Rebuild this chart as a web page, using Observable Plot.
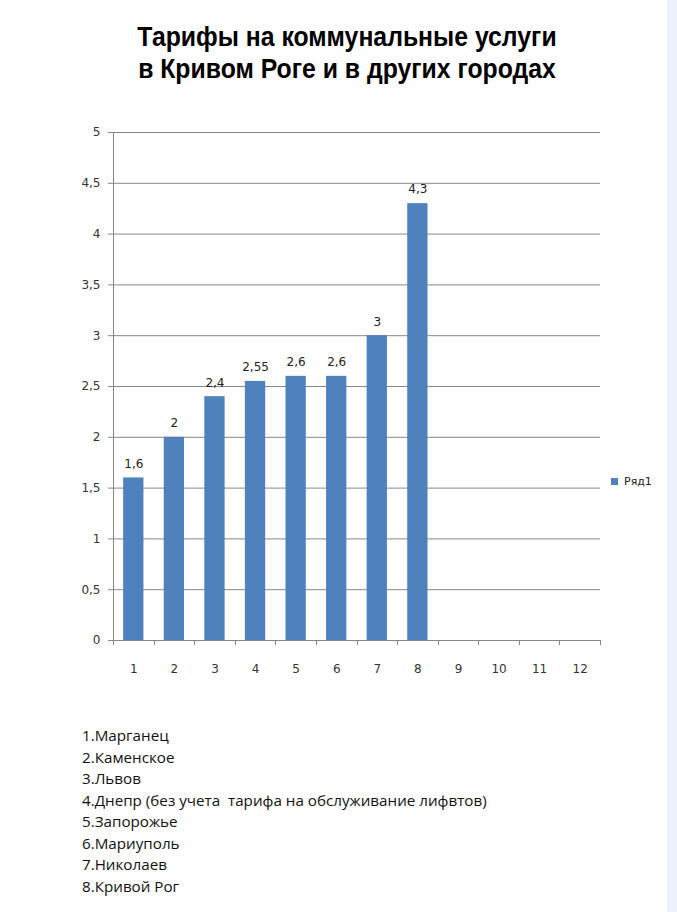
<!DOCTYPE html>
<html>
<head>
<meta charset="utf-8">
<script src="https://cdn.jsdelivr.net/npm/d3@7"></script>
<script src="https://cdn.jsdelivr.net/npm/@observablehq/plot@0.6"></script>
<style>
  html, body { margin: 0; padding: 0; background: #fff; overflow: hidden; }
  #page { position: relative; width: 677px; height: 912px; background: #fff; }
  #strip { position: absolute; left: 667px; top: 0; width: 10px; height: 912px; background: #edf1f9; }
  #title { position: absolute; left: 0; top: 21px; width: 694px; text-align: center;
           font-family: "Liberation Sans", sans-serif; font-weight: bold;
           font-size: 28px; line-height: 32px; color: #000; }
  #title div { transform: scaleX(0.885); transform-origin: 347px 0; }
  #chart { position: absolute; left: 0; top: 100px; }
  #legend { position: absolute; left: 611px; top: 475px; font-family: "DejaVu Sans", sans-serif;
            font-size: 11px; color: #222; display: flex; align-items: center; }
  #legend span.sw { display: inline-block; width: 7px; height: 7px; background: #4f81bd; margin-right: 6px; }
  #caption { position: absolute; left: 82px; top: 725px; font-family: "Open Sans", sans-serif;
             font-size: 15.2px; line-height: 21.5px; color: #111; white-space: pre; }
</style>
</head>
<body>
<div id="page">
  <div id="strip"></div>
  <div id="title"></div>
  <div id="chart"></div>
  <div id="legend"></div>
  <div id="caption"></div>
</div>
<script>
// ---- data ----
const titleLines = ["Тарифы на коммунальные услуги", "в Кривом Роге и в других городах"];
const categories = ["1", "2", "3", "4", "5", "6", "7", "8", "9", "10", "11", "12"];
const values = [1.6, 2, 2.4, 2.55, 2.6, 2.6, 3, 4.3];
const yTicks = [0, 0.5, 1, 1.5, 2, 2.5, 3, 3.5, 4, 4.5, 5];
const seriesName = "Ряд1";
const cities = [
  "1.Марганец",
  "2.Каменское",
  "3.Львов",
  "4.Днепр (без учета  тарифа на обслуживание лифвтов)",
  "5.Запорожье",
  "6.Мариуполь",
  "7.Николаев",
  "8.Кривой Рог"
];

const fmt = d => String(d).replace(".", ",");
const data = values.map((v, i) => ({cat: categories[i], v}));

document.getElementById("title").innerHTML = titleLines.map(t => `<div>${t}</div>`).join("");
document.getElementById("legend").innerHTML = `<span class="sw"></span>${seriesName}`;
document.getElementById("caption").textContent = cities.join("\n");

const axisColor = "#868686";

// custom mark: y-axis line and x-axis tick marks at category boundaries
function axisLines(index, scales, values, dims) {
  const x = scales.x, y = scales.y;
  const step = typeof x.step === "function" ? x.step() : (x(categories[1]) - x(categories[0]));
  const bw = typeof x.bandwidth === "function" ? x.bandwidth() : x.bandwidth;
  const g = d3.create("svg:g").attr("stroke", axisColor).attr("stroke-width", 1);
  const y0 = y(0), y5 = y(5);
  const left = x(categories[0]) - (step - bw) / 2;
  g.append("line").attr("x1", Math.round(left) + 0.5).attr("x2", Math.round(left) + 0.5).attr("y1", y5).attr("y2", y0);
  const bounds = categories.map(c => x(c) - (step - bw) / 2);
  bounds.push(bounds[bounds.length - 1] + step);
  for (const b of bounds) {
    g.append("line").attr("x1", Math.round(b) + 0.5).attr("x2", Math.round(b) + 0.5)
      .attr("y1", y0).attr("y2", y0 + 5);
  }
  return g.node();
}

const chart = Plot.plot({
  width: 677,
  height: 590,
  marginTop: 32,
  marginBottom: 50,
  marginLeft: 113,
  marginRight: 77,
  style: {fontFamily: "DejaVu Sans, sans-serif", fontSize: "12px", color: "#333", background: "transparent"},
  x: {type: "band", domain: categories, paddingInner: 0.5, paddingOuter: 0.25, round: false, axis: null},
  y: {domain: [0, 5], axis: null},
  marks: [
    Plot.gridY(yTicks, {stroke: axisColor, strokeOpacity: 1}),
    Plot.axisY(yTicks, {tickSize: 5, tickPadding: 8, tickFormat: fmt, stroke: axisColor, fill: "#333", fontSize: 12, label: null}),
    Plot.axisX({tickSize: 0, tickPadding: 24, fill: "#333", fontSize: 12, label: null}),
    Plot.barY(data, {x: "cat", y: "v", fill: "#4f81bd"}),
    Plot.ruleY([0], {stroke: axisColor}),
    axisLines,
    Plot.text(data, {x: "cat", y: "v", text: d => fmt(d.v), dy: -14, fill: "#222", fontSize: 12})
  ]
});
document.getElementById("chart").appendChild(chart);
</script>
</body>
</html>
